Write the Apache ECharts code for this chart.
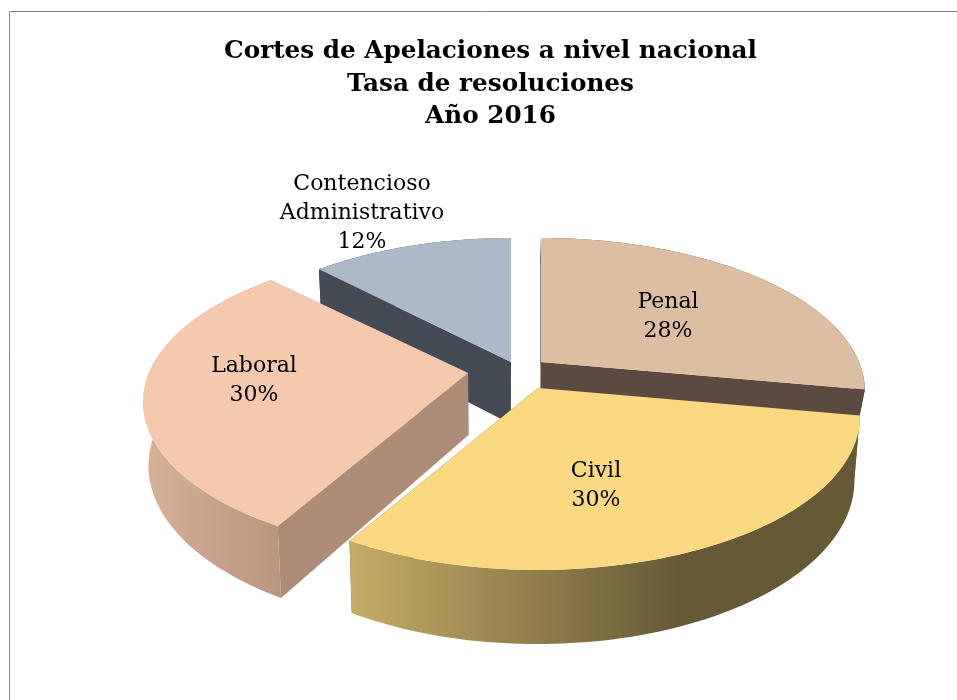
<!DOCTYPE html>
<html>
<head>
<meta charset="utf-8">
<title>Tasa de resoluciones</title>
<style>
  html, body { margin: 0; padding: 0; background: #fff; }
  #main { width: 957px; height: 700px; }
</style>
<script src="https://cdn.jsdelivr.net/npm/echarts@6/dist/echarts.min.js"></script>
</head>
<body>
<div id="main"></div>
<script>
const titleLines = ['Cortes de Apelaciones a nivel nacional', 'Tasa de resoluciones', 'Año 2016'];
const categories = ['Contencioso\nAdministrativo', 'Penal', 'Civil', 'Laboral'];
const values = [12, 28, 30, 30];

// apariencia de cada rebanada (mismo orden que categories)
const slices = [
  { apex: [511, 362], rx: 311, depth: 62, top: '#adb8c9', cut: '#454b54', wall: ['#454b54', '#454b54'], label: [362, 213] },
  { apex: [541, 362], rx: 318, depth: 27, top: '#dcbfa2', cut: '#5a4a40', wall: ['#5a4a40', '#5a4a40'], label: [668, 317] },
  { apex: [538, 388], rx: 316, depth: 62, top: '#fbd981', cut: '#665936', wall: ['#c4ac66', '#665936'], label: [596, 486] },
  { apex: [468, 373], rx: 319, depth: 62, top: '#f4c9ad', cut: '#ad8d77', wall: ['#d6b098', '#b8957e'], label: [254, 381] }
];
const wallStops = [[150, 285], [150, 285], [352, 680], [147, 285]];

const fontFamily = '"DejaVu Serif", "Liberation Serif", serif';
const total = values.reduce((a, b) => a + b, 0);
const startDeg = -43.2;

// proyeccion en perspectiva del disco
const Ry = 141, kLinear = 0.181, kSquare = -0.044, vanishX = 500;
function project(deg, r, cfg) {
  const t = deg * Math.PI / 180;
  const s = Math.sin(t), c = Math.cos(t);
  const d = 1 + kLinear * c * r + kSquare * c * c * r * r;
  const x = cfg.apex[0] + cfg.rx * s * r / d;
  const y = cfg.apex[1] - Ry * c * r / d;
  return { top: [x, y], bottom: [vanishX + (x - vanishX) * 0.985, y + cfg.depth / Math.pow(d, 0.7)] };
}

function renderSlice(params, api) {
  const i = params.dataIndex;
  const cfg = slices[i];
  let before = 0;
  for (let j = 0; j < i; j++) before += values[j];
  const a0 = startDeg + before / total * 360;
  const a1 = a0 + api.value(0) / total * 360;

  const arc = [];
  for (let n = 0; n <= 90; n++) arc.push(project(a0 + (a1 - a0) * n / 90, 1, cfg));
  const center = project(0, 0, cfg);
  const first = arc[0], last = arc[arc.length - 1];

  const poly = (points, fill) => ({
    type: 'polygon',
    shape: { points: points },
    style: { fill: fill, stroke: null }
  });
  const wallFill = new echarts.graphic.LinearGradient(wallStops[i][0], 0, wallStops[i][1], 0, [
    { offset: 0, color: cfg.wall[0] },
    { offset: 1, color: cfg.wall[1] }
  ], true);

  return {
    type: 'group',
    children: [
      poly([center.top, first.top, first.bottom, center.bottom], cfg.cut),
      poly([center.top, last.top, last.bottom, center.bottom], cfg.cut),
      poly(arc.map(p => p.top).concat(arc.map(p => p.bottom).reverse()), wallFill),
      poly([center.top].concat(arc.map(p => p.top)), cfg.top),
      {
        type: 'text',
        z2: 10,
        x: cfg.label[0],
        y: cfg.label[1],
        style: {
          text: categories[i] + '\n' + api.value(0) + '%',
          font: '22px ' + fontFamily,
          lineHeight: 29,
          fill: '#000',
          align: 'center',
          verticalAlign: 'middle'
        }
      }
    ]
  };
}

const chart = echarts.init(document.getElementById('main'), null, { renderer: 'canvas' });
chart.setOption({
  animation: false,
  backgroundColor: '#fff',
  title: {
    text: titleLines.join('\n'),
    left: 490.5,
    top: 35.5,
    padding: 0,
    textAlign: 'center',
    textStyle: { fontFamily: fontFamily, fontWeight: 'bold', fontSize: 24.7, lineHeight: 32.5, color: '#000' }
  },
  graphic: [
    { type: 'line', shape: { x1: 9.5, y1: 11.5, x2: 957, y2: 11.5 }, style: { stroke: '#858585', lineWidth: 1 } },
    { type: 'line', shape: { x1: 9.5, y1: 11.5, x2: 9.5, y2: 700 }, style: { stroke: '#858585', lineWidth: 1 } }
  ],
  series: [{
    type: 'custom',
    coordinateSystem: 'none',
    renderItem: renderSlice,
    data: values.map(v => [v]),
    silent: true
  }]
});
</script>
</body>
</html>
